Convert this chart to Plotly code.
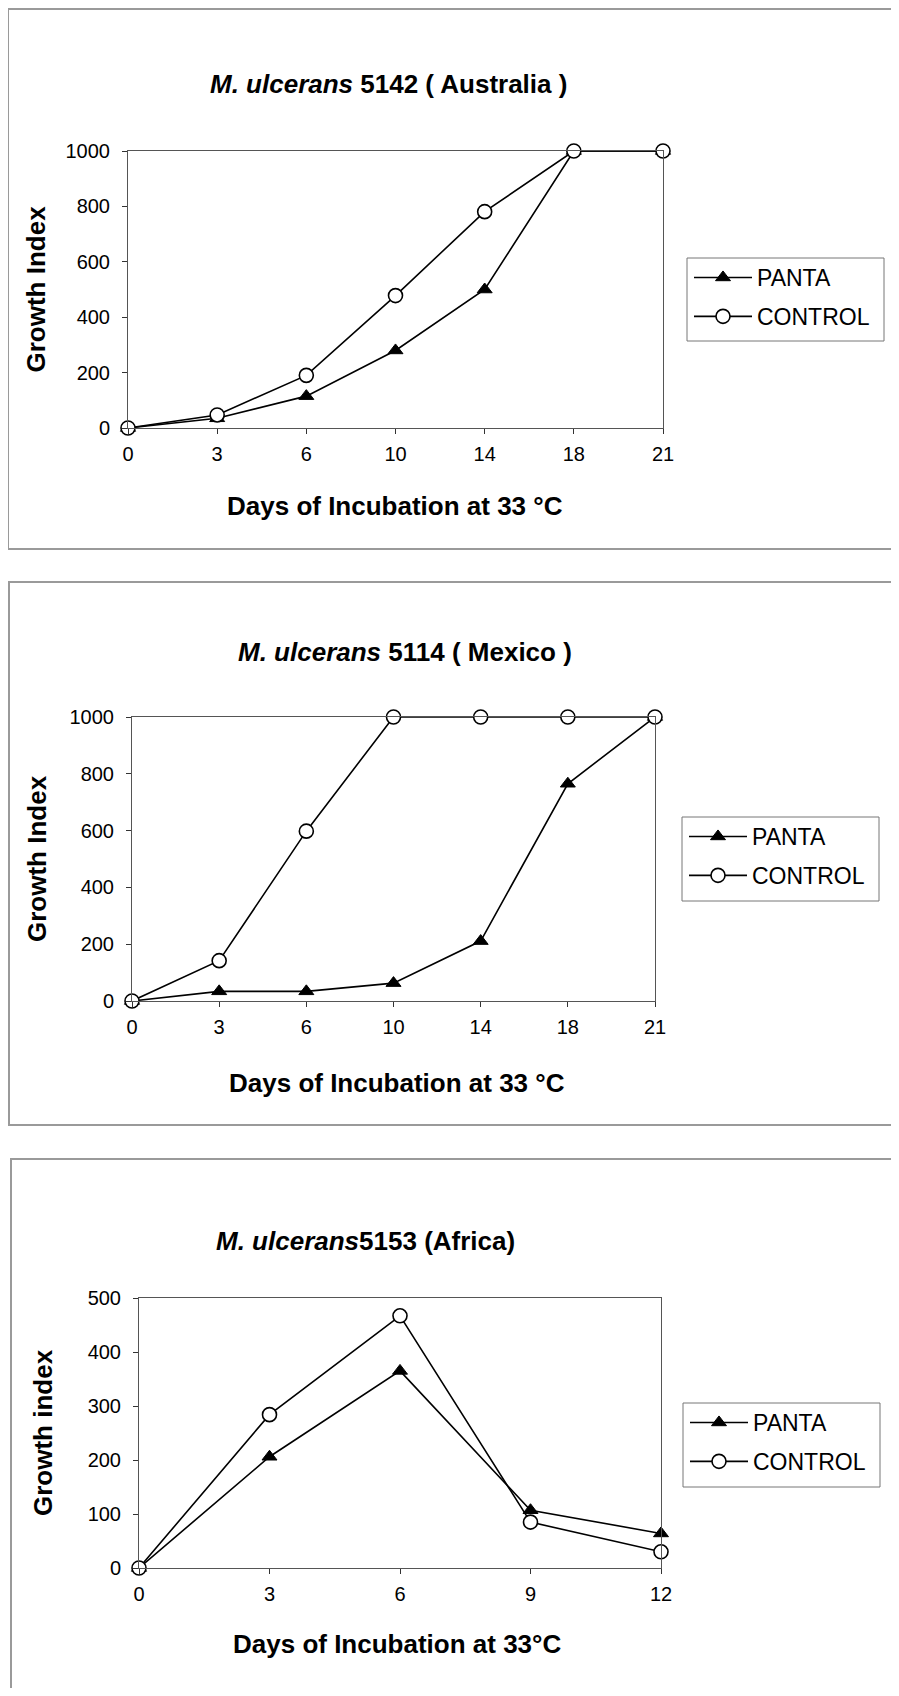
import plotly.graph_objects as go

# ---------------- data ----------------
days_long = ["0", "3", "6", "10", "14", "18", "21"]
days_short = ["0", "3", "6", "9", "12"]

aus_panta = [0, 35, 115, 280, 500, 1000, 1000]
aus_control = [0, 47, 190, 478, 781, 1000, 1000]

mex_panta = [0, 34, 34, 63, 211, 765, 1000]
mex_control = [0, 142, 598, 1000, 1000, 1000, 1000]

afr_panta = [0, 206, 365, 107, 64]
afr_control = [0, 284, 467, 85, 30]

titles = [
    "<b><i>M. ulcerans</i> 5142 ( Australia )</b>",
    "<b><i>M. ulcerans</i> 5114 ( Mexico )</b>",
    "<b><i>M. ulcerans</i>5153 (Africa)</b>",
]
xtitles = [
    "<b>Days of Incubation at 33 °C</b>",
    "<b>Days of Incubation at 33 °C</b>",
    "<b>Days of Incubation at 33°C</b>",
]
ytitles = ["<b>Growth Index</b>", "<b>Growth Index</b>", "<b>Growth index</b>"]
series_names = ["PANTA", "CONTROL"]

# ---------------- layout helpers ----------------
# page body has an 8px margin, so the figure is shrunk and offset by it
OFF = 8
FW, FH = 899 - 2 * OFF, 1696 - 2 * OFF
FONT = "Liberation Sans, Arial, sans-serif"


def px(x):
    return (x - OFF) / FW


def py(y):
    return 1 - (y - OFF) / FH


panels = [
    dict(cats=days_long, p=aus_panta, c=aus_control, ymax=1000, dtick=200,
         box=(128, 663, 151, 428), title_xy=(388, 84), xt_xy=(395, 506), yt_x=36,
         legend_box=(687, 884, 258, 341), border=(8, 9, 549)),
    dict(cats=days_long, p=mex_panta, c=mex_control, ymax=1000, dtick=200,
         box=(132, 655, 717, 1001), title_xy=(405, 652), xt_xy=(397, 1083), yt_x=37,
         legend_box=(682, 879, 817, 901), border=(9, 582, 1125)),
    dict(cats=days_short, p=afr_panta, c=afr_control, ymax=500, dtick=100,
         box=(139, 661, 1298, 1568), title_xy=(365, 1241), xt_xy=(397, 1644), yt_x=43,
         legend_box=(683, 880, 1403, 1487), border=(11, 1159, 1760)),
]

fig = go.Figure()
annotations = []
shapes = []

for i, pn in enumerate(panels):
    k = "" if i == 0 else str(i + 1)
    xa, ya = "x" + k, "y" + k
    leg = "legend" + k
    x0, x1, y0, y1 = pn["box"]
    fig.add_trace(go.Scatter(
        x=pn["cats"], y=pn["p"], name=series_names[0], mode="lines+markers",
        xaxis=xa, yaxis=ya, legend=leg, legendgroup=f"p{i}",
        line=dict(color="black", width=1.6),
        marker=dict(symbol="triangle-up", size=13, color="black",
                    line=dict(color="black", width=1)),
        cliponaxis=False,
    ))
    fig.add_trace(go.Scatter(
        x=pn["cats"], y=pn["c"], name=series_names[1], mode="lines+markers",
        xaxis=xa, yaxis=ya, legend=leg, legendgroup=f"c{i}",
        line=dict(color="black", width=1.6),
        marker=dict(symbol="circle", size=14, color="white",
                    line=dict(color="black", width=1.6)),
        cliponaxis=False,
    ))
    lx0, lx1, ly0, ly1 = pn["legend_box"]
    fig.update_layout(**{
        "xaxis" + k: dict(
            domain=[px(x0), px(x1)], anchor=ya, type="category",
            categoryorder="array", categoryarray=pn["cats"],
            range=[0, len(pn["cats"]) - 1],
            showline=True, linecolor="#555", linewidth=1, mirror=True,
            ticks="outside", ticklen=5, tickcolor="#333",
            tickfont=dict(family=FONT, size=20, color="black"),
            ticklabelstandoff=3, showgrid=False, zeroline=False, fixedrange=True,
            automargin=False,
        ),
        "yaxis" + k: dict(
            domain=[py(y1), py(y0)], anchor=xa,
            range=[0, pn["ymax"]], dtick=pn["dtick"], tick0=0,
            showline=True, linecolor="#555", linewidth=1, mirror=True,
            ticks="outside", ticklen=5, tickcolor="#333",
            tickfont=dict(family=FONT, size=20, color="black"),
            ticklabelstandoff=8, showgrid=False, zeroline=False, fixedrange=True,
            automargin=False,
        ),
        leg: dict(
            x=px(lx0 + 2), y=py(ly0 - 2),
            xanchor="left", yanchor="top", xref="paper", yref="paper",
            borderwidth=0, bgcolor="rgba(0,0,0,0)",
            font=dict(family=FONT, size=23, color="black"),
            itemwidth=58, tracegroupgap=6, traceorder="grouped",
        ),
    })
    # legend frame
    shapes.append(dict(type="rect", xref="paper", yref="paper",
                       x0=px(lx0), x1=px(lx1), y0=py(ly1), y1=py(ly0),
                       line=dict(color="#777", width=1), fillcolor="rgba(0,0,0,0)"))
    tx, ty = pn["title_xy"]
    annotations.append(dict(text=titles[i], x=px(tx), y=py(ty), xref="paper", yref="paper",
                            showarrow=False, xanchor="center", yanchor="middle",
                            font=dict(family=FONT, size=26, color="black")))
    xx, xy = pn["xt_xy"]
    annotations.append(dict(text=xtitles[i], x=px(xx), y=py(xy), xref="paper", yref="paper",
                            showarrow=False, xanchor="center", yanchor="middle",
                            font=dict(family=FONT, size=26, color="black")))
    annotations.append(dict(text=ytitles[i], x=px(pn["yt_x"]), y=py((y0 + y1) / 2),
                            xref="paper", yref="paper", textangle=-90,
                            showarrow=False, xanchor="center", yanchor="middle",
                            font=dict(family=FONT, size=26, color="black")))
    bl, bt, bb = pn["border"]
    shapes.append(dict(type="rect", xref="paper", yref="paper",
                       x0=px(bl), x1=px(899 + 20), y0=py(bb), y1=py(bt),
                       line=dict(color="#9a9a9a", width=2), fillcolor="rgba(0,0,0,0)"))

fig.update_layout(
    width=FW, height=FH, margin=dict(l=0, r=0, t=0, b=0),
    paper_bgcolor="white", plot_bgcolor="white",
    annotations=annotations, shapes=shapes,
    font=dict(family=FONT, color="black"),
)

fig.write_html("out.html")
